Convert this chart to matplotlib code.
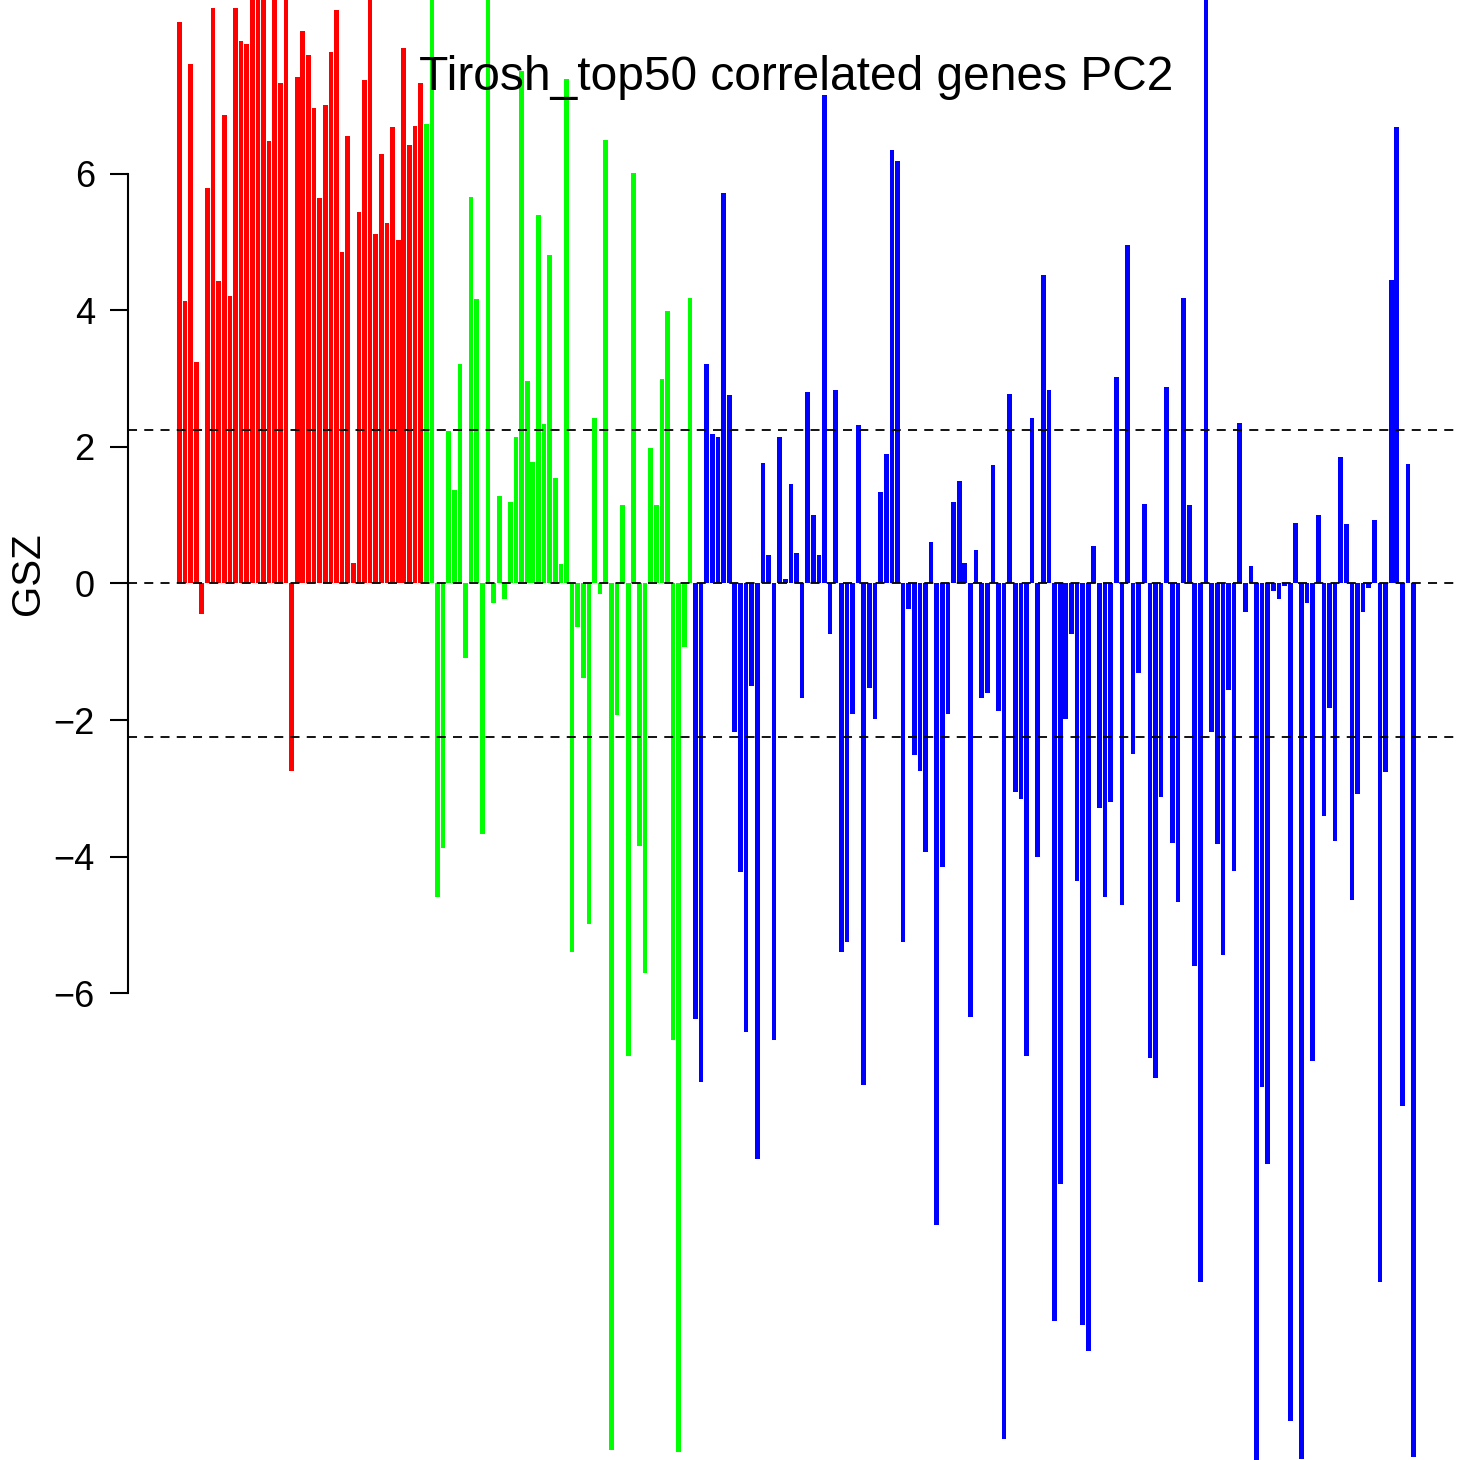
import numpy as np
import matplotlib.pyplot as plt

# GSZ per gene set, three blocks (bars above ~8.5 run off the top in the original)
red_vals = [8.22, 4.14, 7.61, 3.24, -0.44, 5.79, 8.43, 4.43, 6.86, 4.21,
            8.43, 7.95, 7.90, 9.6, 10.2, 9.1, 6.49, 9.8, 7.33, 9.3,
            -2.75, 7.42, 8.10, 7.74, 6.97, 5.65, 7.01, 7.78, 8.40, 4.86,
            6.55, 0.30, 5.45, 7.37, 9.4, 5.12, 6.30, 5.28, 6.69, 5.03,
            7.85, 6.42, 6.70, 7.33]
green_vals = [6.73, 9.5, -4.59, -3.87, 2.24, 1.37, 3.21, -1.09, 5.66, 4.17,
              -3.67, 10.5, -0.29, 1.28, -0.23, 1.19, 2.14, 7.51, 2.96, 1.78,
              5.40, 2.34, 4.82, 1.54, 0.29, 7.39, -5.40, -0.64, -1.38, -4.99,
              2.43, -0.15, 6.50, -12.70, -1.93, 1.15, -6.93, 6.01, -3.84, -5.70,
              1.99, 1.15, 2.99, 3.99, -6.69, -12.73, -0.93, 4.18]
blue_vals = [-6.38, -7.31, 3.22, 2.19, 2.14, 5.72, 2.76, -2.17, -4.23, -6.57,
             -1.50, -8.43, 1.76, 0.42, -6.69, 2.14, 0.07, 1.46, 0.45, -1.68,
             2.81, 1.00, 0.42, 7.16, -0.74, 2.84, -5.40, -5.25, -1.91, 2.32,
             -7.35, -1.53, -1.98, 1.34, 1.90, 6.35, 6.19, -5.25, -0.38, -2.51,
             -2.75, -3.93, 0.61, -9.40, -4.15, -1.91, 1.19, 1.50, 0.30, -6.35,
             0.49, -1.68, -1.61, 1.73, -1.87, -12.53, 2.77, -3.06, -3.16, -6.93,
             2.42, -4.00, 4.52, 2.84, -10.81, -8.80, -1.98, -0.74, -4.36, -10.87,
             -11.24, 0.55, -3.29, -4.59, -3.20, 3.02, -4.71, 4.96, -2.50, -1.31,
             1.16, -6.95, -7.25, -3.13, 2.88, -3.80, -4.66, 4.18, 1.15, -5.60,
             -10.23, 9.8, -2.17, -3.81, -5.44, -1.56, -4.21, 2.35, -0.42, 0.25,
             -13.0, -7.37, -8.51, -0.11, -0.23, -0.04, -12.27, 0.89, -12.83, -0.29,
             -6.99, 1.01, -3.40, -1.83, -3.77, 1.86, 0.87, -4.63, -3.09, -0.42,
             -0.07, 0.93, -10.23, -2.76, 4.45, 6.69, -7.65, 1.75, -12.80]
cutoff = 2.25
yticks = [-6, -4, -2, 0, 2, 4, 6]

vals = np.array(red_vals + green_vals + blue_vals)
colors = (["#ff0000"] * len(red_vals) + ["#00ff00"] * len(green_vals)
          + ["#0000ff"] * len(blue_vals))
x = 0.7 + 1.2 * np.arange(len(vals))  # barplot-style positions (space = 0.2)

plt.rcParams["font.family"] = ["Liberation Sans", "DejaVu Sans"]
fig = plt.figure(figsize=(14.58, 14.60), dpi=100)
ax = fig.add_axes([127.5 / 1458, 0, 1338 / 1458, 1])
ax.patch.set_alpha(0)

ax.bar(x, vals, width=1.0, color=colors, linewidth=0, zorder=1)
for h in (cutoff, 0, -cutoff):
    ax.axhline(h, color="black", lw=1.3, ls=(0, (5, 4)), zorder=2)

span = x[-1] + 0.5 - 0.2
ax.set_xlim(0.2 - 0.04 * span, x[-1] + 0.5 + 0.04 * span)
ax.set_ylim(-12.842, 8.549)

for s in ("top", "right", "bottom"):
    ax.spines[s].set_visible(False)
ax.spines["left"].set_bounds(-6, 6)
ax.spines["left"].set_linewidth(1.5)
ax.set_xticks([])
ax.set_yticks(yticks)
ax.tick_params(axis="y", length=13, width=1.5, labelsize=26, pad=10.5)

ax.text(0.5, 1 - 90 / 1460, "Tirosh_top50 correlated genes PC2",
        transform=ax.transAxes, ha="center", va="baseline",
        fontsize=34.5, zorder=5)
fig.text(28 / 1458, 1 - 574 / 1460, "GSZ", rotation=90,
         ha="center", va="center", fontsize=29)

fig.savefig("out.png", dpi=100)
